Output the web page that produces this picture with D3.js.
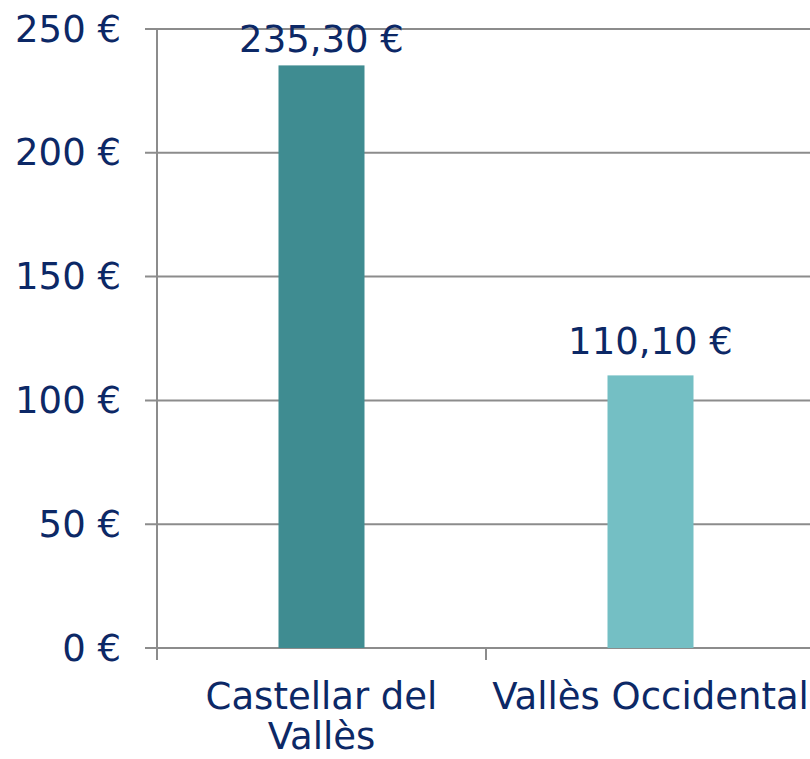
<!DOCTYPE html>
<html>
<head>
<meta charset="utf-8">
<script src="https://cdn.jsdelivr.net/npm/d3@7/dist/d3.min.js"></script>
<style>
  html, body { margin: 0; padding: 0; background: #fff; }
  svg { display: block; font-family: "DejaVu Sans", Verdana, sans-serif; }
</style>
</head>
<body>
<div id="chart"></div>
<script>
// values
const categories = [["Castellar del", "Vallès"], ["Vallès Occidental"]];
const values = [235.3, 110.1];
const valueLabels = ["235,30 €", "110,10 €"];
const barColors = ["#3f8c91", "#74bfc4"];
const yTicks = [0, 50, 100, 150, 200, 250];

const W = 810, H = 759;
const ink = "#0c2866", gridCol = "#8c8c8c";
const plotL = 157, plotR = 815, plotT = 29, plotB = 648;
const fs = "37px";

const svg = d3.select("#chart").append("svg").attr("width", W).attr("height", H);

const x = d3.scaleBand().domain(d3.range(categories.length)).range([plotL, plotR]).padding(0);
const y = d3.scaleLinear().domain([0, 250]).range([plotB, plotT]);
const barW = 86;

// gridlines + left ticks
svg.append("g").selectAll("line").data(yTicks).join("line")
  .attr("x1", plotL - 12).attr("x2", W)
  .attr("y1", d => y(d)).attr("y2", d => y(d))
  .attr("stroke", gridCol).attr("stroke-width", 2);

// y axis line
svg.append("line").attr("x1", plotL).attr("x2", plotL).attr("y1", plotT).attr("y2", plotB + 12)
  .attr("stroke", gridCol).attr("stroke-width", 2);

// category separators
svg.append("g").selectAll("line").data(d3.range(1, categories.length)).join("line")
  .attr("x1", d => x(d)).attr("x2", d => x(d))
  .attr("y1", plotB).attr("y2", plotB + 12)
  .attr("stroke", gridCol).attr("stroke-width", 2);

// y tick labels
svg.append("g").selectAll("text").data(yTicks).join("text")
  .attr("x", 121).attr("y", d => y(d))
  .attr("text-anchor", "end").attr("dominant-baseline", "central")
  .attr("fill", ink).style("font-size", fs)
  .text(d => d + " €");

// bars
svg.append("g").selectAll("rect").data(values).join("rect")
  .attr("x", (d, i) => x(i) + x.bandwidth() / 2 - barW / 2)
  .attr("width", barW)
  .attr("y", d => y(d))
  .attr("height", d => plotB - y(d))
  .attr("fill", (d, i) => barColors[i]);

// value labels
svg.append("g").selectAll("text").data(values).join("text")
  .attr("x", (d, i) => x(i) + x.bandwidth() / 2)
  .attr("y", d => Math.max(52, y(d) - 21))
  .attr("text-anchor", "middle")
  .attr("fill", ink).style("font-size", fs)
  .text((d, i) => valueLabels[i]);

// category labels
const cat = svg.append("g").selectAll("text").data(categories).join("text")
  .attr("x", (d, i) => x(i) + x.bandwidth() / 2)
  .attr("y", 709)
  .attr("text-anchor", "middle")
  .attr("fill", ink).style("font-size", fs);
cat.selectAll("tspan").data(d => d).join("tspan")
  .attr("x", function() { return this.parentNode.getAttribute("x"); })
  .attr("dy", (d, i) => i === 0 ? 0 : 40)
  .text(d => d);
</script>
</body>
</html>
